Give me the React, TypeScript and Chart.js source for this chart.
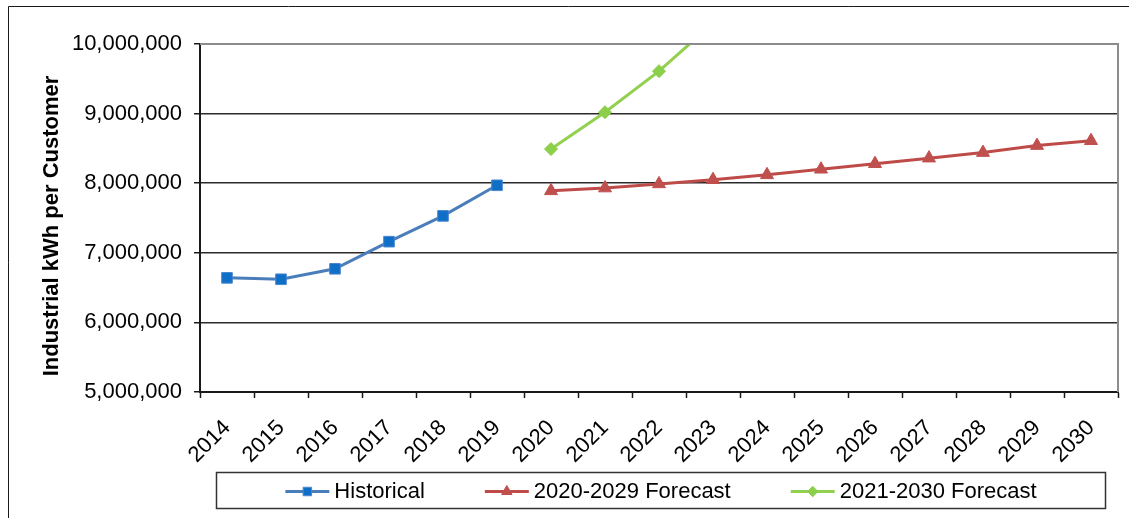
import React, { useEffect, useRef } from "react";
import { Chart, registerables } from "chart.js";

Chart.register(...registerables);

// Years on the category axis
const years = [
  "2014", "2015", "2016", "2017", "2018", "2019", "2020", "2021", "2022",
  "2023", "2024", "2025", "2026", "2027", "2028", "2029", "2030",
];

// Industrial kWh per customer
const historical = [6640000, 6620000, 6770000, 7160000, 7530000, 7970000];
const forecast2020 = [
  7890000, 7930000, 7990000, 8050000, 8120000, 8200000,
  8280000, 8360000, 8440000, 8540000, 8610000,
];
const forecast2021 = [8490000, 9020000, 9610000, 10300000];

const yTicks = [5000000, 6000000, 7000000, 8000000, 9000000, 10000000];

const yTitle = "Industrial kWh per Customer";

const FONT = "'Liberation Sans', Arial, sans-serif";

// place a series on the year axis, starting at the given year
function alignTo(startYear: string, values: number[]): (number | null)[] {
  const start = years.indexOf(startYear);
  return years.map((_, i) =>
    i >= start && i - start < values.length ? values[i - start] : null
  );
}

const seriesStyle = [
  { label: "Historical", line: "#4A7EBB", fill: "#0F6FC6", border: "#4A86D0", point: "rect", radius: 7.5 },
  { label: "2020-2029 Forecast", line: "#BE4B48", fill: "#C0504D", border: "#C0504D", point: "triangle", radius: 7.5 },
  { label: "2021-2030 Forecast", line: "#92D050", fill: "#8CCF4A", border: "#8CCF4A", point: "rectRot", radius: 6.5 },
];

// legend marker shapes, same geometry as the chart's point styles
function drawMarker(ctx: CanvasRenderingContext2D, style: string, r: number, x: number, y: number) {
  ctx.beginPath();
  if (style === "rect") {
    const s = Math.SQRT1_2 * r;
    ctx.rect(x - s, y - s, 2 * s, 2 * s);
  } else if (style === "triangle") {
    const h = r * 1.5;
    const half = (r * Math.sqrt(3)) / 2;
    ctx.moveTo(x, y - r);
    ctx.lineTo(x + half, y - r + h);
    ctx.lineTo(x - half, y - r + h);
    ctx.closePath();
  } else {
    ctx.moveTo(x, y - r);
    ctx.lineTo(x + r, y);
    ctx.lineTo(x, y + r);
    ctx.lineTo(x - r, y);
    ctx.closePath();
  }
  ctx.fill();
  ctx.stroke();
}

// outer frame, axis title, plot border and boxed legend
const decorations = {
  id: "decorations",
  beforeDraw(chart: any) {
    const { ctx, width, height } = chart;
    ctx.save();
    ctx.fillStyle = "#ffffff";
    ctx.fillRect(0, 0, width, height);
    ctx.strokeStyle = "#1a1a1a";
    ctx.lineWidth = 1;
    ctx.beginPath();
    ctx.moveTo(8.5, height);
    ctx.lineTo(8.5, 6.5);
    ctx.lineTo(width, 6.5);
    ctx.stroke();
    ctx.restore();
  },
  afterDraw(chart: any) {
    const { ctx, chartArea } = chart;
    ctx.save();
    // gray top and right plot border
    ctx.strokeStyle = "#8c8c8c";
    ctx.lineWidth = 2;
    ctx.beginPath();
    ctx.moveTo(chartArea.left, chartArea.top);
    ctx.lineTo(chartArea.right, chartArea.top);
    ctx.lineTo(chartArea.right, chartArea.bottom);
    ctx.stroke();

    // vertical axis title
    ctx.save();
    ctx.translate(52, (chartArea.top + chartArea.bottom) / 2 + 8);
    ctx.rotate(-Math.PI / 2);
    ctx.font = `bold 22px ${FONT}`;
    ctx.fillStyle = "#000000";
    ctx.textAlign = "center";
    ctx.textBaseline = "middle";
    ctx.fillText(yTitle, 0, 0);
    ctx.restore();

    // legend box
    const boxL = 216.5, boxR = 1105.5, boxT = 472.5, boxB = 508.5;
    ctx.strokeStyle = "#333333";
    ctx.lineWidth = 1.5;
    ctx.strokeRect(boxL, boxT, boxR - boxL, boxB - boxT);

    ctx.font = `22px ${FONT}`;
    ctx.textBaseline = "middle";
    ctx.textAlign = "left";
    const lineLen = 44, textGap = 5, itemGap = 60;
    const widths = seriesStyle.map((s) => lineLen + textGap + ctx.measureText(s.label).width);
    const total = widths.reduce((a, b) => a + b, 0) + itemGap * (widths.length - 1);
    let x = (boxL + boxR) / 2 - total / 2;
    const cy = (boxT + boxB) / 2 + 1;
    seriesStyle.forEach((s, i) => {
      ctx.strokeStyle = s.line;
      ctx.lineWidth = 3;
      ctx.beginPath();
      ctx.moveTo(x, cy);
      ctx.lineTo(x + lineLen, cy);
      ctx.stroke();
      ctx.fillStyle = s.fill;
      ctx.strokeStyle = s.border;
      ctx.lineWidth = 1;
      drawMarker(ctx, s.point, s.radius * 0.8, x + lineLen / 2, cy);
      ctx.fillStyle = "#000000";
      ctx.fillText(s.label, x + lineLen + textGap, cy);
      x += widths[i] + itemGap;
    });
    ctx.restore();
  },
};

export default function App() {
  const canvasRef = useRef<HTMLCanvasElement | null>(null);

  useEffect(() => {
    const canvas = canvasRef.current;
    if (!canvas) return;

    const seriesData = [
      alignTo("2014", historical),
      alignTo("2020", forecast2020),
      alignTo("2020", forecast2021),
    ];

    const datasets = seriesStyle.map((s, i) => ({
      label: s.label,
      data: seriesData[i],
      borderColor: s.line,
      backgroundColor: s.fill,
      pointBackgroundColor: s.fill,
      pointBorderColor: s.border,
      pointBorderWidth: 1,
      pointStyle: s.point as any,
      pointRadius: s.radius,
      borderWidth: 3,
      tension: 0,
      spanGaps: false,
    }));

    const chart = new Chart(canvas, {
      type: "line",
      data: { labels: years, datasets },
      plugins: [decorations],
      options: {
        animation: false,
        responsive: false,
        maintainAspectRatio: false,
        events: [],
        layout: { padding: { left: 8, top: 44, right: 11, bottom: 0 } },
        plugins: {
          legend: { display: false },
          tooltip: { enabled: false },
        },
        scales: {
          x: {
            type: "category",
            offset: true,
            grid: {
              offset: true,
              drawOnChartArea: false,
              drawTicks: true,
              tickLength: 6,
              tickColor: "#1a1a1a",
              tickWidth: 1.5,
            },
            border: { display: true, color: "#1a1a1a", width: 2 },
            ticks: {
              autoSkip: false,
              maxRotation: 45,
              minRotation: 45,
              padding: 17,
              color: "#000000",
              font: { family: FONT, size: 22 },
            },
            afterFit(scale: any) {
              scale.height = 126;
            },
          },
          y: {
            min: 5000000,
            max: 10000000,
            afterBuildTicks(scale: any) {
              scale.ticks = yTicks.map((v) => ({ value: v }));
            },
            grid: {
              color: "#2b2b2b",
              lineWidth: 1.5,
              drawTicks: true,
              tickLength: 6,
              tickColor: "#1a1a1a",
            },
            border: { display: true, color: "#1a1a1a", width: 2 },
            ticks: {
              padding: 12,
              color: "#000000",
              font: { family: FONT, size: 22 },
              callback: (v: any) => Number(v).toLocaleString("en-US"),
            },
            afterFit(scale: any) {
              scale.width = 192;
            },
          },
        },
      },
    });

    return () => chart.destroy();
  }, []);

  return (
    <div style={{ position: "fixed", left: 0, top: 0, width: 1129, height: 518, background: "#fff" }}>
      <canvas ref={canvasRef} width={1129} height={518} style={{ display: "block", width: 1129, height: 518 }} />
    </div>
  );
}
